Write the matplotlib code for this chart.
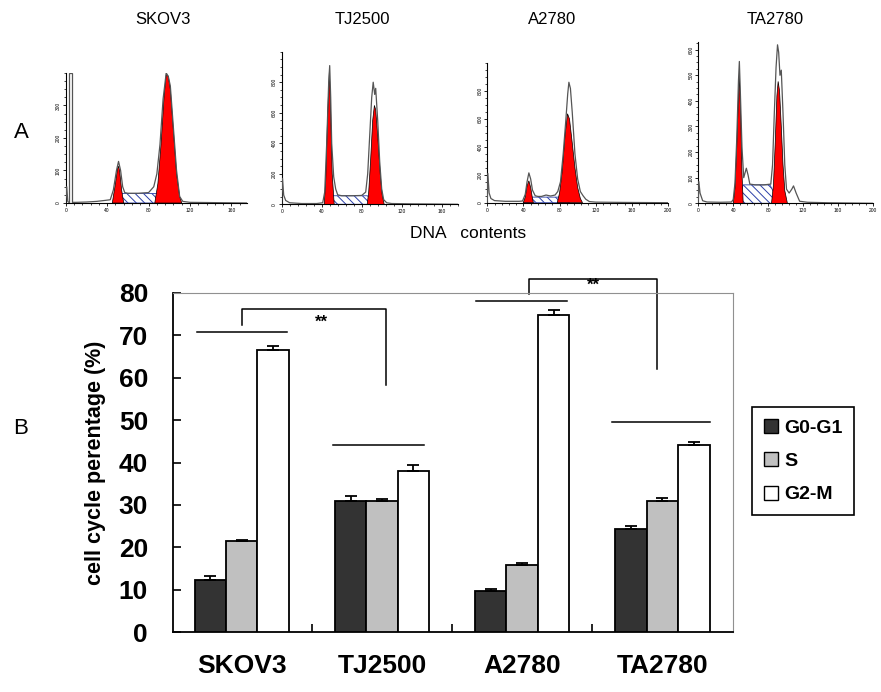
import matplotlib
matplotlib.use('Agg')
import matplotlib.pyplot as plt
from matplotlib.patches import Patch
import numpy as np

plt.rcParams['font.family'] = ['Liberation Sans', 'DejaVu Sans']
plt.rcParams['hatch.linewidth'] = 0.7

# ---------------- 面板A: DNA含量直方图（从图中读取的轮廓点） ----------------
CELL_LINES = ['SKOV3', 'TJ2500', 'A2780', 'TA2780']

skov3_line_x = [0, 1, 2, 3, 10, 20, 30, 38, 43, 46, 49, 51, 53, 55, 57, 60, 70, 80, 85, 88, 91, 94, 97, 99, 101, 104, 107, 110, 113, 120, 175]
skov3_line_y = [0, 50, 5, 2, 2, 3, 5, 8, 10, 40, 100, 128, 100, 50, 32, 30, 30, 32, 50, 90, 180, 320, 400, 390, 360, 230, 100, 20, 5, 2, 0]
skov3_g1_x = [45, 48, 50, 51, 52, 54, 56]
skov3_g1_y = [0, 60, 105, 113, 100, 40, 0]
skov3_g2_x = [86, 89, 92, 95, 97, 99, 101, 104, 107, 110, 112]
skov3_g2_y = [0, 60, 180, 330, 395, 390, 350, 220, 90, 20, 0]
skov3_s_x = [50, 53, 96, 102]
skov3_s_y = [0, 29, 29, 0]

tj_line_x = [0, 0.8, 2, 4, 8, 20, 35, 41, 43, 45, 47, 48, 49, 50, 52, 54, 56, 60, 70, 80, 84, 86, 88, 90, 91.5, 93, 94, 96, 98, 100, 102, 105, 110, 130, 150, 176]
tj_line_y = [0, 170, 60, 25, 10, 5, 5, 10, 80, 400, 800, 909, 700, 400, 180, 100, 62, 56, 56, 58, 80, 200, 450, 700, 800, 720, 760, 550, 280, 100, 30, 10, 5, 3, 2, 0]
tj_g1_x = [42.5, 44, 46, 47.7, 49, 50.5, 52.5]
tj_g1_y = [0, 150, 600, 876, 600, 200, 0]
tj_g2_x = [85.5, 87, 89, 91, 92.7, 94, 96, 98.5, 100.5, 102.5]
tj_g2_y = [0, 80, 300, 550, 648, 620, 450, 200, 60, 0]
tj_s_x = [46, 50, 85.7, 94]
tj_s_y = [0, 56, 56, 0]

a_line_x = [0, 0.6, 2, 4, 8, 20, 35, 39, 42, 44, 46, 48, 50, 53, 56, 60, 65, 70, 75, 78, 81, 84, 87, 89, 90.3, 92, 94, 97, 100, 103, 106, 109, 113, 120, 150, 200]
a_line_y = [0, 210, 70, 30, 15, 10, 10, 12, 60, 150, 214, 170, 90, 50, 45, 45, 55, 48, 55, 80, 150, 350, 600, 780, 864, 820, 650, 350, 170, 80, 50, 25, 8, 4, 2, 0]
a_g1_x = [39.8, 42, 44, 46, 48, 50, 51]
a_g1_y = [0, 40, 120, 157, 110, 30, 0]
a_g2_x = [77.4, 80, 83, 86, 88.8, 91, 94, 97, 100, 103, 105.4]
a_g2_y = [0, 70, 230, 480, 638, 600, 430, 250, 110, 30, 0]
a_s_x = [39.8, 49, 80, 91.4]
a_s_y = [0, 40, 40, 0]

ta_line_x = [0, 0.6, 2, 5, 10, 25, 38, 40, 42, 44, 46, 47, 48, 50, 52, 55, 57, 59, 65, 75, 83, 85, 87, 89, 90.7, 92, 93.5, 95, 97, 99, 101, 104, 107, 109, 112, 116, 125, 150, 200]
ta_line_y = [0, 85, 40, 10, 5, 4, 5, 15, 80, 250, 480, 554, 450, 220, 100, 137, 110, 75, 72, 72, 75, 150, 350, 530, 619, 590, 500, 520, 350, 150, 55, 40, 55, 68, 40, 8, 4, 2, 0]
ta_g1_x = [40, 42, 44, 46, 47, 48.5, 50, 51.4]
ta_g1_y = [0, 60, 220, 420, 495, 350, 120, 0]
ta_g2_x = [83.8, 86, 88, 90, 91.4, 93, 95, 97, 99, 102]
ta_g2_y = [0, 70, 230, 420, 476, 440, 300, 150, 50, 0]
ta_s_x = [44.6, 51.4, 82, 92.6]
ta_s_y = [0, 72, 72, 0]

HIST_XMAX = [175, 176, 200, 200]
HIST_YMAX = [400, 1000, 1000, 630]
HIST_XTICKS = [[0, 40, 80, 120, 160], [0, 40, 80, 120, 160], [0, 40, 80, 120, 160, 200], [0, 40, 80, 120, 160, 200]]
HIST_YTICKS = [[0, 100, 200, 300], [0, 200, 400, 600, 800], [0, 200, 400, 600, 800], [0, 100, 200, 300, 400, 500, 600]]

# ---------------- 面板B: 细胞周期比例 ----------------
PHASES = ['G0-G1', 'S', 'G2-M']
g0g1_pct = [12.3, 30.8, 9.7, 24.4]
s_pct = [21.4, 30.8, 15.7, 30.8]
g2m_pct = [66.6, 38.1, 74.8, 44.2]
g0g1_err = [0.9, 1.2, 0.4, 0.7]
s_err = [0.3, 0.6, 0.7, 0.9]
g2m_err = [0.9, 1.4, 1.2, 0.7]

# 显著性标注线: (x起点, x终点, y)
sig_lines = [(-0.32, 0.32, 70.8), (0.65, 1.30, 44.1), (1.67, 2.32, 78.1), (2.64, 3.34, 49.5)]
# 括号: (左x, 右x, 左腿底, 顶, 右腿底)
sig_brackets = [(0.0, 1.03, 72.5, 76.2, 58.2), (2.05, 2.965, 79.8, 83.3, 62.0)]
sig_stars = [(0.57, 73.0), (2.505, 81.8)]

W, H = 881, 692
fig = plt.figure(figsize=(W / 100, H / 100), dpi=100)


def px_axes(left, top, right, bottom):
    return fig.add_axes([left / W, (H - bottom) / H, (right - left) / W, (bottom - top) / H])


hist_boxes = [(65.7, 73, 247, 203), (281.7, 51.7, 457.7, 204.3),
              (487.3, 63.3, 668, 202.7), (698.3, 42, 873, 203.3)]
hist_data = [
    (skov3_line_x, skov3_line_y, skov3_g1_x, skov3_g1_y, skov3_g2_x, skov3_g2_y, skov3_s_x, skov3_s_y),
    (tj_line_x, tj_line_y, tj_g1_x, tj_g1_y, tj_g2_x, tj_g2_y, tj_s_x, tj_s_y),
    (a_line_x, a_line_y, a_g1_x, a_g1_y, a_g2_x, a_g2_y, a_s_x, a_s_y),
    (ta_line_x, ta_line_y, ta_g1_x, ta_g1_y, ta_g2_x, ta_g2_y, ta_s_x, ta_s_y),
]

for i, box in enumerate(hist_boxes):
    ax = px_axes(*box)
    lx, ly, g1x, g1y, g2x, g2y, sx, sy = hist_data[i]
    ax.fill(sx, sy, facecolor='white', edgecolor='#2b3fa8', hatch='\\\\\\\\', lw=0.6, zorder=2)
    ax.fill(g1x, g1y, facecolor='#ff0000', edgecolor='black', lw=0.5, zorder=3)
    ax.fill(g2x, g2y, facecolor='#ff0000', edgecolor='black', lw=0.5, zorder=3)
    ax.plot(lx, ly, color='#555555', lw=0.9, zorder=4)
    if i == 0:
        # 门控区域（细长矩形）
        ax.fill([3.2, 3.2, 6.5, 6.5], [0, 400, 400, 0], facecolor='white', edgecolor='#555555', lw=0.9, zorder=4)
    ax.set_xlim(0, HIST_XMAX[i])
    ax.set_ylim(0, HIST_YMAX[i])
    ax.spines['top'].set_visible(False)
    ax.spines['right'].set_visible(False)
    for sp in ('left', 'bottom'):
        ax.spines[sp].set_linewidth(0.8)
    ax.set_xticks(HIST_XTICKS[i])
    ax.set_yticks(HIST_YTICKS[i])
    ax.set_xticks(np.arange(0, HIST_XMAX[i] + 1, 8), minor=True)
    ax.set_yticks(np.arange(0, HIST_YMAX[i] + 1, HIST_YTICKS[i][1] / 4), minor=True)
    ax.tick_params(which='major', labelsize=3.5, length=2.5, width=0.6, pad=1)
    ax.tick_params(which='minor', length=1.5, width=0.5)
    for lab in ax.get_yticklabels():
        lab.set_rotation(90)
        lab.set_va('center')
    ax.patch.set_alpha(0)

title_x = [163, 362, 552, 775]
for name, tx in zip(CELL_LINES, title_x):
    fig.text(tx / W, 1 - 20 / H, name, fontsize=12, ha='center', va='center')
fig.text(468 / W, 1 - 233 / H, 'DNA   contents', fontsize=12.5, ha='center', va='center')
fig.text(14 / W, 1 - 133 / H, 'A', fontsize=16, ha='left', va='center')
fig.text(13 / W, 1 - 428 / H, 'B', fontsize=16, ha='left', va='center')

# ---------------- 柱状图 ----------------
ax = px_axes(173, 293, 732.5, 632)
x = np.arange(len(CELL_LINES))
w = 0.224
series = [(g0g1_pct, g0g1_err, '#333333'), (s_pct, s_err, '#c0c0c0'), (g2m_pct, g2m_err, 'white')]
for k, (vals, errs, col) in enumerate(series):
    ax.bar(x + (k - 1) * w, vals, width=w, color=col, edgecolor='black', lw=1.3,
           yerr=[[0] * len(errs), errs], capsize=4,
           error_kw={'elinewidth': 1.3, 'capthick': 1.3, 'ecolor': 'black'}, zorder=3)

for x0, x1, y in sig_lines:
    ax.plot([x0, x1], [y, y], color='black', lw=1.1, clip_on=False)
for xl, xr, yl, yt, yr in sig_brackets:
    ax.plot([xl, xl, xr, xr], [yl, yt, yt, yr], color='black', lw=1.1, clip_on=False)
for sx_, sy_ in sig_stars:
    ax.text(sx_, sy_, '**', fontsize=12, fontweight='bold', ha='center', va='center')

ax.set_xlim(-0.49, 3.5)
ax.set_ylim(0, 80)
ax.set_yticks(range(0, 81, 10))
ax.set_xticks(x)
ax.set_xticklabels(CELL_LINES)
ax.set_xticks([0.5, 1.5, 2.5], minor=True)
ax.tick_params(axis='y', direction='in', length=6, width=1.2, labelsize=19, pad=18)
ax.tick_params(axis='x', which='major', length=0, labelsize=19, pad=16)
ax.tick_params(axis='x', which='minor', direction='in', length=6, width=1.2)
for lab in ax.get_xticklabels() + ax.get_yticklabels():
    lab.set_fontweight('bold')
ax.set_ylabel('cell cycle perentage (%)', fontsize=15.5, fontweight='bold', labelpad=9)
ax.spines['left'].set_linewidth(1.3)
ax.spines['bottom'].set_linewidth(1.3)
ax.spines['top'].set_color('#909090')
ax.spines['right'].set_color('#909090')

handles = [Patch(facecolor=c, edgecolor='black', lw=1.0) for c in ('#333333', '#c0c0c0', 'white')]
leg = fig.legend(handles, PHASES, loc='upper left', bbox_to_anchor=(752 / W, 1 - 407 / H),
                 borderaxespad=0, prop={'weight': 'bold', 'size': 14}, fancybox=False,
                 edgecolor='black', handlelength=0.75, handleheight=0.75, handletextpad=0.3,
                 labelspacing=0.8, borderpad=0.6, framealpha=1)
leg.get_frame().set_linewidth(1.2)

fig.savefig('out.png', dpi=100)
